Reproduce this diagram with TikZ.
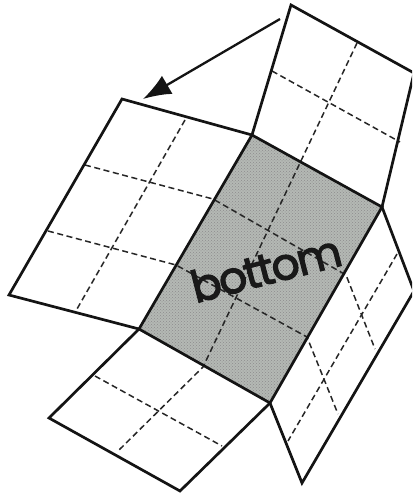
\documentclass[tikz,border=0pt]{standalone}
\usepackage{fontspec}
\setmainfont[LetterSpace=-4.5,FakeBold=2.6]{Poppins}
\usetikzlibrary{arrows.meta,patterns}
\definecolor{halftone}{HTML}{B4B8B4}
\tikzset{
  solidedge/.style={line width=2.7pt,line join=miter,line cap=round,black!92},
  fold/.style={line width=1.5pt,dash pattern=on 6pt off 3.6pt,black!85},
  bottompanel/.style={fill=halftone,draw=none},
  halftonedots/.style={pattern=crosshatch dots,pattern color=black!45},
  pointer/.style={line width=2.3pt,black!92,-{Latex[length=28pt,width=21pt]}},
  facelabel/.style={font=\fontsize{44pt}{44pt}\selectfont,rotate=14.5,inner sep=0pt,anchor=base,text=black!90}
}
\begin{document}
\begin{tikzpicture}[x=1pt,y=-1pt]
\useasboundingbox (0,0) rectangle (412,494);
\clip (0,0) rectangle (412,494);
% corners of the central panel
\coordinate (a) at (252,135);
\coordinate (b) at (382,207);
\coordinate (c) at (270,403);
\coordinate (d) at (139,329);
% flap corners
\coordinate (t1) at (291,5);
\coordinate (t2) at (414,73);
\coordinate (l1) at (122,99);
\coordinate (l2) at (9,295);
\coordinate (s1) at (49,418);
\coordinate (s2) at (180,491);
\coordinate (r1) at (414,291);
\coordinate (r2) at (302,483);
\coordinate (from) at (280,19);
\coordinate (to) at (143,99);
\fill[bottompanel] (a) -- (b) -- (c) -- (d) -- cycle;
\fill[halftonedots] (a) -- (b) -- (c) -- (d) -- cycle;
% fold lines
\draw[fold] (272,71) -- (400,142);
\draw[fold] (357,43) -- (203,367) -- (117,452);
\draw[fold] (85,165) -- (213,199) -- (346,275) -- (375,349);
\draw[fold] (48,231) -- (176,265) -- (307,337) -- (338,414);
\draw[fold] (185,120) -- (77,309);
\draw[fold] (95,376) -- (222,446);
\draw[fold] (397,254) -- (288,441);
% outlines
\draw[solidedge] (a) -- (t1) -- (t2) -- (b);
\draw[solidedge] (a) -- (l1) -- (l2) -- (d);
\draw[solidedge] (d) -- (s1) -- (s2) -- (c);
\draw[solidedge] (b) -- (r1) -- (r2) -- (c);
\draw[solidedge] (a) -- (b) -- (c) -- (d) -- cycle;
\draw[pointer] (from) -- (to);
\node[facelabel] (label) at (270,284) {bottom};
\end{tikzpicture}
\end{document}
